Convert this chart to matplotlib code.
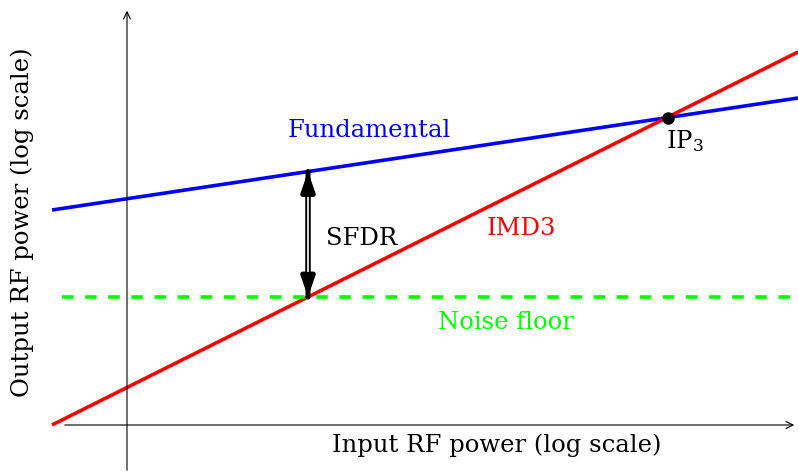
import matplotlib
matplotlib.use("Agg")
import matplotlib.pyplot as plt

# ==========================================
# DATA (arbitrary log-power units)
# ==========================================

x_in = [-1.5, 13.42]
fund_out = [4.30, 6.54]
imd3_out = [0.0, 7.46]
noise_x = [-1.3, 13.42]
noise_floor = [2.56, 2.56]
ip3_point = [10.82, 6.14]
sfdr_x = 3.62
sfdr_span = [2.56, 5.07]

plt.rcParams["font.family"] = ["DejaVu Serif"]
plt.rcParams["mathtext.fontset"] = "dejavuserif"

fig = plt.figure(figsize=(7.98, 4.73), dpi=100)
ax = fig.add_axes([0, 0, 1, 1])
ax.set_xlim(-2.54, 13.42)
ax.set_ylim(-0.96, 8.5)
ax.axis("off")

# ==========================================
# AXES WITH ARROWS
# ==========================================

ax.annotate("", xy=(13.40, 0), xytext=(-1.3, 0),
            arrowprops=dict(arrowstyle="->,head_length=0.5,head_width=0.25", lw=0.8, color="black"))
ax.annotate("", xy=(0, 8.34), xytext=(0, -0.96),
            arrowprops=dict(arrowstyle="->,head_length=0.5,head_width=0.25", lw=0.8, color="black"))

# ==========================================
# CURVES
# ==========================================

ax.plot(x_in, fund_out, color="#0000ff", lw=2.6, solid_capstyle="butt")
ax.plot(x_in, imd3_out, color="#ff0000", lw=2.6, solid_capstyle="butt")
ax.plot(noise_x, noise_floor, color="#00ff00", lw=2.6, ls=(0, (3.2, 3.2)))
ax.plot(ip3_point[0], ip3_point[1], "o", color="black", ms=8, zorder=5)

# SFDR double arrow
for a, b in [(sfdr_span[0], sfdr_span[1]), (sfdr_span[1], sfdr_span[0])]:
    ax.annotate("", xy=(sfdr_x, b), xytext=(sfdr_x, a),
                arrowprops=dict(arrowstyle="-|>,head_length=1.1,head_width=0.38",
                                lw=3.6, color="black", shrinkA=0, shrinkB=0), zorder=6)
ax.plot([sfdr_x, sfdr_x], [sfdr_span[0] + 0.5, sfdr_span[1] - 0.5],
        color="white", lw=1.2, zorder=7, solid_capstyle="butt")

# ==========================================
# LABELS
# ==========================================

fs = 17.5
ax.text(4.84, 5.9, "Fundamental", color="#0000ff", fontsize=fs, ha="center", va="center")
ax.text(7.88, 3.94, "IMD3", color="#ff0000", fontsize=fs, ha="center", va="center")
ax.text(7.58, 2.06, "Noise floor", color="#00ff00", fontsize=fs, ha="center", va="center")
ax.text(3.98, 3.74, "SFDR", color="black", fontsize=fs, ha="left", va="center")
ax.text(10.78, 5.68, r"IP$_\mathrm{3}$", color="black", fontsize=fs, ha="left", va="center")
ax.text(7.4, -0.4, "Input RF power (log scale)", fontsize=fs, ha="center", va="center")
ax.text(-2.1, 4.06, "Output RF power (log scale)", fontsize=fs, ha="center", va="center",
        rotation=90)

fig.savefig("out.png", dpi=100)
plt.close()
